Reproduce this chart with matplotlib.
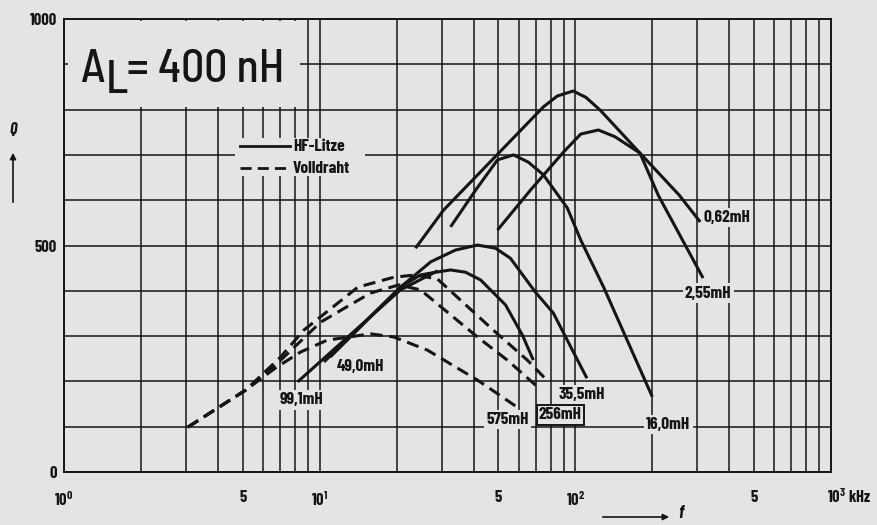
import matplotlib
matplotlib.use("Agg")
import matplotlib.pyplot as plt
from matplotlib.patches import Rectangle
from matplotlib.lines import Line2D

BG = "#e4e4e6"
INK = "#151515"
FONT = ["Barlow Condensed", "DejaVu Sans"]
TITLE_FONT = ["Barlow Semi Condensed", "DejaVu Sans"]

plt.rcParams["mathtext.fontset"] = "custom"
plt.rcParams["mathtext.rm"] = "Barlow Condensed:bold"
plt.rcParams["mathtext.it"] = "Barlow Condensed:bold:italic"
plt.rcParams["mathtext.bf"] = "Barlow Condensed:bold"

# HF-Litze (solid), frequency in kHz and quality factor Q
F_062 = [49.6, 66.7, 89.8, 105, 123, 143, 179, 255, 308]
Q_062 = [534, 622, 706, 746, 755, 740, 704, 611, 552]
F_255 = [23.7, 30.5, 75, 85, 98, 110, 125, 179, 211, 316]
Q_255 = [494, 578, 806, 830, 841, 827, 799, 704, 611, 428]
F_160 = [32.5, 40.7, 49.6, 57.3, 65.5, 75, 93, 105, 129, 200]
Q_160 = [541, 622, 689, 700, 684, 656, 583, 512, 408, 166]
F_355 = [11.0, 20.7, 27.2, 34, 41.4, 48.7, 55.7, 69.8, 82, 93, 111]
Q_355 = [254, 408, 464, 490, 501, 494, 472, 397, 351, 291, 207]
F_490 = [10.4, 20.7, 24.8, 28.4, 32.5, 37.2, 42.6, 53.3, 62.1, 68.5]
Q_490 = [243, 408, 435, 441, 446, 441, 424, 369, 302, 247]
F_991 = [8.2, 20.7, 28.9]
Q_991 = [199, 402, 444]

# Volldraht (dashed)
F_D1 = [3.05, 5.14, 7.04, 8.66, 14.1, 19.5, 23.7, 28.9, 47.8, 64.9, 78.5]
Q_D1 = [99, 181, 254, 313, 408, 430, 435, 426, 313, 247, 199]
F_D2 = [3.05, 5.14, 7.04, 10.1, 15.8, 20.4, 24.8, 41.4, 54.2, 71.1]
Q_D2 = [99, 181, 247, 331, 395, 413, 402, 298, 247, 188]
F_575 = [3.05, 5.14, 6.73, 8.43, 10.7, 15.8, 19.5, 26.4, 41.4, 59.3]
Q_575 = [99, 181, 230, 265, 291, 305, 298, 269, 203, 143]

SOLID = [(F_062, Q_062), (F_255, Q_255), (F_160, Q_160),
         (F_355, Q_355), (F_490, Q_490), (F_991, Q_991)]
DASHED = [(F_D1, Q_D1), (F_D2, Q_D2), (F_575, Q_575)]

# curve labels: text, f, Q, alignment, boxed
LABELS = [
    ("0,62mH", 318, 561, "left", False),
    ("2,55mH", 331, 395, "center", False),
    ("16,0mH", 231, 104, "center", False),
    ("35,5mH", 106, 170, "center", False),
    ("256mH", 87.4, 126, "center", True),
    ("575mH", 54.3, 115, "center", False),
    ("49,0mH", 14.5, 232, "center", False),
    ("99,1mH", 8.5, 159, "center", False),
]

W, H = 877, 525
fig = plt.figure(figsize=(W / 100, H / 100), dpi=100, facecolor=BG)
ax = fig.add_axes([64 / W, 1 - 472 / H, (831 - 64) / W, (472 - 19) / H])
ax.set_facecolor(BG)
ax.set_xscale("log")
ax.set_xlim(1, 1000)
ax.set_ylim(0, 1000)

minor = [m * 10 ** d for d in range(3) for m in range(2, 10)]
ax.set_xticks(minor, minor=True)
ax.set_xticks([1, 5, 10, 50, 100, 500])
ax.set_xticklabels([r"$10^0$", "5", r"$10^1$", "5", r"$10^2$", "5"])
ax.set_yticks(range(0, 1001, 100))
ax.set_yticklabels(["0", "", "", "", "", "500", "", "", "", "", "1000"])
ax.tick_params(which="both", length=0, colors=INK)
ax.tick_params(axis="x", pad=13)
ax.tick_params(axis="y", pad=5)
for lab in ax.get_xticklabels() + ax.get_yticklabels():
    lab.set_family(FONT)
    lab.set_fontweight("bold")
    lab.set_fontsize(12)
ax.grid(which="both", color=INK, lw=1.1)
ax.set_axisbelow(True)
for s in ax.spines.values():
    s.set_color(INK)
    s.set_linewidth(1.4)

fig.text(827 / W, 1 - 497 / H, r"$10^3$ kHz", ha="left", va="center",
         fontsize=12, fontweight="bold", family=FONT, color=INK)

for f, q in SOLID:
    ax.plot(f, q, color=INK, lw=2.2, solid_capstyle="butt", zorder=3)
for f, q in DASHED:
    ax.plot(f, q, color=INK, lw=2.2, ls=(0, (4, 2.2)), zorder=3)

for text, f, q, ha, boxed in LABELS:
    box = dict(facecolor=BG, edgecolor=INK if boxed else "none",
               lw=1.4, pad=1.5)
    ax.text(f, q, text, ha=ha, va="center", fontsize=12.5, fontweight="bold",
            family=FONT, color=INK, bbox=box, zorder=4)

# blank areas behind the title and the legend
fig.patches.append(Rectangle((68 / W, 1 - 107 / H), 232 / W, 86 / H,
                             transform=fig.transFigure, facecolor=BG,
                             edgecolor="none", zorder=2))
fig.patches.append(Rectangle((235 / W, 1 - 176 / H), 130 / W, 38 / H,
                             transform=fig.transFigure, facecolor=BG,
                             edgecolor="none", zorder=2))
for txt, x, base in [("A", 81, 82), ("L", 106, 93), ("=", 127, 82),
                     ("400 nH", 158, 82)]:
    fig.text(x / W, 1 - base / H, txt, fontsize=33, family=TITLE_FONT,
             fontweight="medium", color=INK, va="baseline", zorder=5)

fig.lines.append(Line2D([240 / W, 290 / W], [1 - 146 / H] * 2,
                        transform=fig.transFigure, color=INK, lw=2.0, zorder=5))
fig.lines.append(Line2D([240 / W, 290 / W], [1 - 168 / H] * 2,
                        transform=fig.transFigure, color=INK, lw=2.0,
                        ls=(0, (4, 2.2)), zorder=5))
fig.text(293 / W, 1 - 146 / H, "HF-Litze", fontsize=12.5, fontweight="bold",
         family=FONT, color=INK, va="center", zorder=5)
fig.text(293 / W, 1 - 168 / H, "Volldraht", fontsize=12.5, fontweight="bold",
         family=FONT, color=INK, va="center", zorder=5)

# axis names with arrows
fig.text(13 / W, 1 - 130 / H, "Q", fontsize=12, fontweight="bold",
         style="italic", family=FONT, color=INK, ha="center", va="center")
ax.annotate("", xy=(13 / W, 1 - 150 / H), xytext=(13 / W, 1 - 205 / H),
            xycoords="figure fraction", textcoords="figure fraction",
            arrowprops=dict(arrowstyle="-|>", color=INK, lw=1.2,
                            mutation_scale=9))
ax.annotate("", xy=(672 / W, 1 - 517 / H), xytext=(600 / W, 1 - 517 / H),
            xycoords="figure fraction", textcoords="figure fraction",
            arrowprops=dict(arrowstyle="-|>", color=INK, lw=1.2,
                            mutation_scale=9))
fig.text(678 / W, 1 - 514 / H, "f", fontsize=13, fontweight="bold",
         style="italic", family=FONT, color=INK, ha="left", va="center")

fig.savefig("out.png", dpi=100, facecolor=BG)
